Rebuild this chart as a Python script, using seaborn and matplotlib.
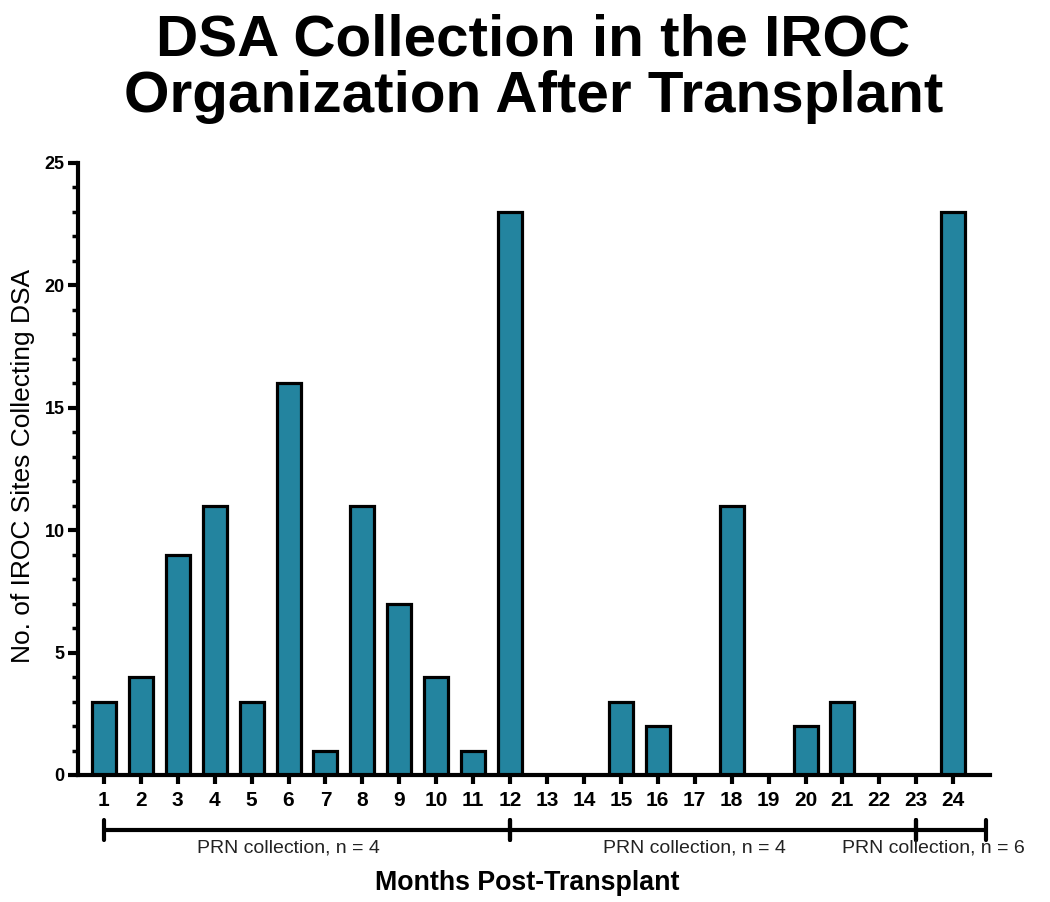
import matplotlib
matplotlib.use("Agg")
import matplotlib.pyplot as plt
import seaborn as sns
from matplotlib.ticker import MultipleLocator

months = [str(m) for m in range(1, 25)]
sites = [3, 4, 9, 11, 3, 16, 1, 11, 7, 4, 1, 23, 0, 0, 3, 2, 0, 11, 0, 2, 3, 0, 0, 23]
bracket_labels = ["PRN collection, n = 4", "PRN collection, n = 4", "PRN collection, n = 6"]
bracket_ranges = [(0, 11), (11, 22), (22, 23.9)]

sns.set_theme(style="ticks")
plt.rcParams["font.family"] = ["Liberation Sans", "DejaVu Sans"]
plt.rcParams["text.color"] = "black"
plt.rcParams["axes.labelcolor"] = "black"

fig = plt.figure(figsize=(10.5, 9.02), dpi=100)
ax = fig.add_axes([0.0743, 0.1408, 0.8687, 0.6785])

sns.barplot(x=months, y=sites, color="#23849F", saturation=1, edgecolor="black",
            linewidth=2.3, width=0.65, ax=ax)

ax.set_xlim(-0.7, 24.0)
ax.set_ylim(0, 25)
ax.yaxis.set_major_locator(MultipleLocator(5))
ax.yaxis.set_minor_locator(MultipleLocator(1))
for s in ["top", "right"]:
    ax.spines[s].set_visible(False)
for s in ["left", "bottom"]:
    ax.spines[s].set_linewidth(3)
    ax.spines[s].set_color("black")
ax.tick_params(axis="x", length=6.5, width=3, labelsize=15, pad=5, colors="black")
ax.tick_params(axis="y", which="major", length=7.5, width=3, labelsize=13, pad=2, colors="black")
ax.tick_params(axis="y", which="minor", length=4, width=2.5, colors="black")
for lab in ax.get_xticklabels():
    lab.set_fontweight("bold")
for lab in ax.get_yticklabels():
    lab.set_fontweight("bold")

ax.set_xlabel("")
ax.set_ylabel("")
fig.text(23 / 1050, 1 - 466 / 902, "No. of IROC Sites Collecting DSA", rotation=90,
         ha="center", va="center", fontsize=19)
fig.text(527 / 1050, 1 - 883 / 902, "Months Post-Transplant", ha="center", va="center",
         fontsize=19.3, fontweight="bold")

trans = ax.get_xaxis_transform()
ybar = -0.0899
for (x0, x1), lab in zip(bracket_ranges, bracket_labels):
    ax.plot([x0, x1], [ybar, ybar], color="black", lw=3, transform=trans, clip_on=False)
    for xe in (x0, x1):
        ax.plot([xe, xe], [ybar - 0.017, ybar + 0.017], color="black", lw=3,
                transform=trans, clip_on=False)
    ax.text((x0 + x1) / 2 - 0.5, -0.119, lab, transform=trans, ha="center", va="center",
            fontsize=14, color="#222222")

fig.text(0.508, 1 - 13 / 902, "DSA Collection in the IROC\nOrganization After Transplant",
         ha="center", va="top", fontsize=42, fontweight="bold", linespacing=1.07)

fig.savefig("out.png", dpi=100)
